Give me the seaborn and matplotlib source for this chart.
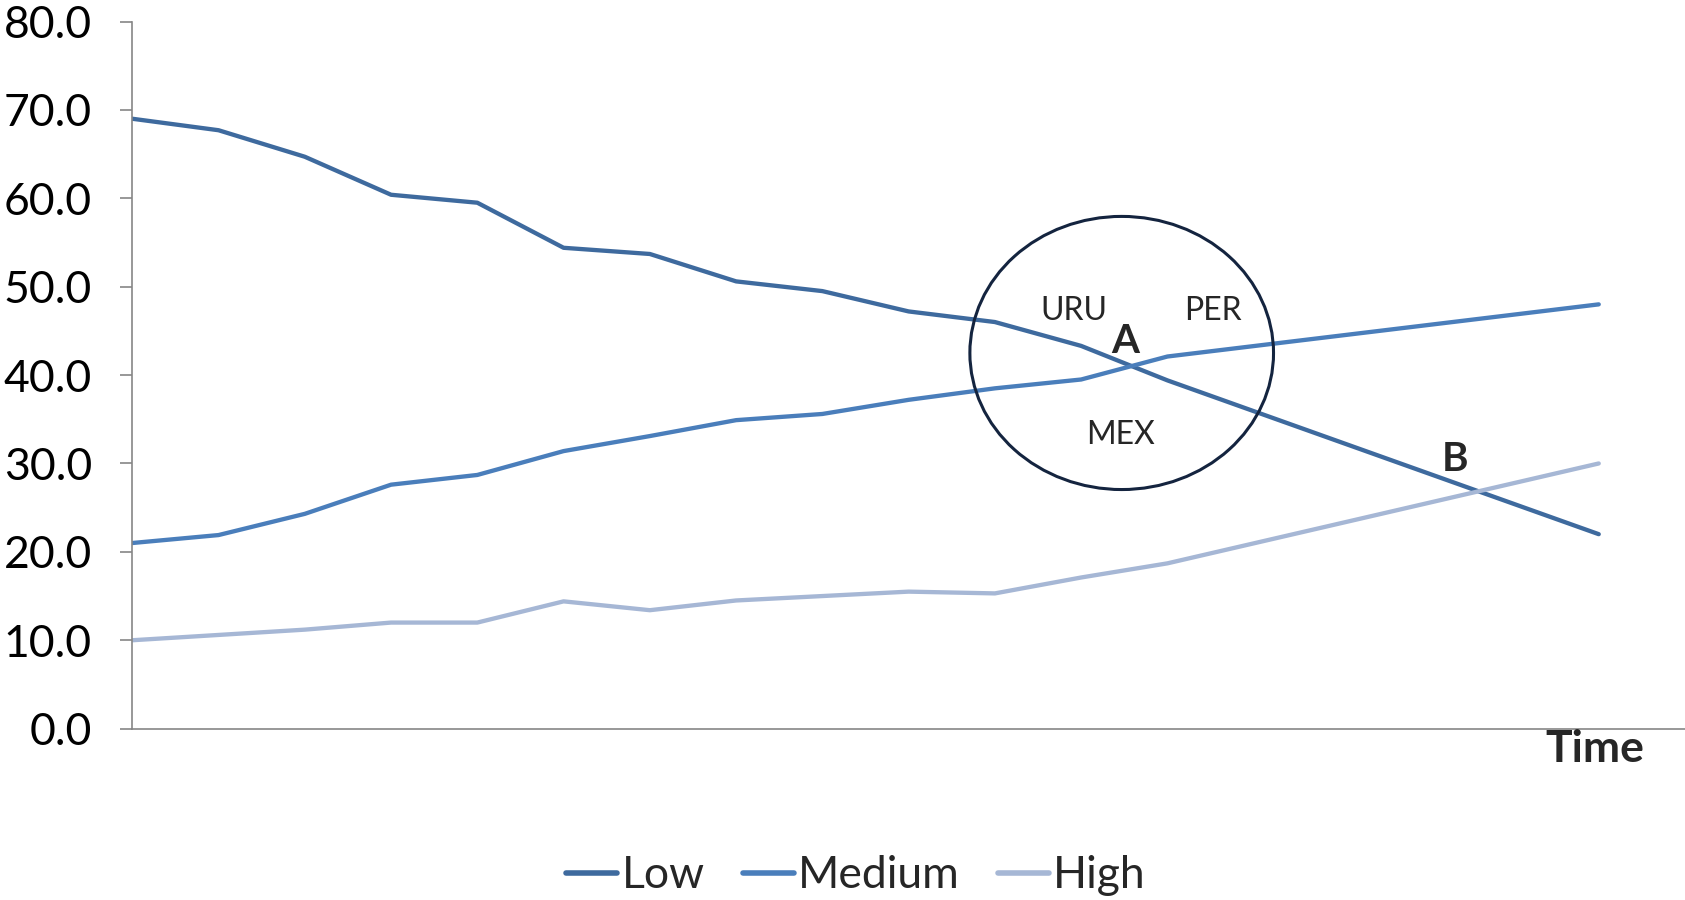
import matplotlib
matplotlib.use("Agg")
import matplotlib.pyplot as plt
from matplotlib.patches import Ellipse
import seaborn as sns
import pandas as pd

# ---- data ----
time_idx = [0, 1, 2, 3, 4, 5, 6, 7, 8, 9, 10, 11, 12, 17]
low = [69.0, 67.7, 64.7, 60.4, 59.5, 54.4, 53.7, 50.6, 49.5, 47.2, 46.0, 43.3, 39.4, 22.0]
medium = [21.0, 21.9, 24.3, 27.6, 28.7, 31.4, 33.1, 34.9, 35.6, 37.2, 38.5, 39.5, 42.1, 48.0]
high = [10.0, 10.6, 11.2, 12.0, 12.0, 14.4, 13.4, 14.5, 15.0, 15.5, 15.3, 17.1, 18.7, 30.0]
series_names = ["Low", "Medium", "High"]
series_colors = ["#3E6A9E", "#4A7EBB", "#A6B7D5"]
y_ticks = [0, 10, 20, 30, 40, 50, 60, 70, 80]

df = pd.concat([
    pd.DataFrame({"t": time_idx, "v": vals, "s": name})
    for name, vals in zip(series_names, [low, medium, high])
])

sns.set_theme(style="white")
plt.rcParams["font.family"] = ["Lato", "DejaVu Sans"]

fig = plt.figure(figsize=(16.85, 9.0), dpi=100)
ax = fig.add_axes([0.0785, 0.1904, 0.9215, 0.7857])

sns.lineplot(data=df, x="t", y="v", hue="s", hue_order=series_names,
             palette=dict(zip(series_names, series_colors)),
             linewidth=3.1, ax=ax, legend=True, sort=True,
             solid_capstyle="round")

ax.set_xlim(0, 18)
ax.set_ylim(0, 80)
ax.set_yticks(y_ticks)
ax.set_yticklabels([f"{v:.1f}" for v in y_ticks], fontsize=32)
ax.set_xticks([])
ax.set_xlabel("")
ax.set_ylabel("")
for side in ["top", "right"]:
    ax.spines[side].set_visible(False)
for side in ["left", "bottom"]:
    ax.spines[side].set_color("#868686")
    ax.spines[side].set_linewidth(1.2)
ax.tick_params(axis="y", which="major", direction="out", length=9,
               width=1.2, color="#868686", pad=20, left=True,
               labelcolor="#000000")

# annotations
ax.add_patch(Ellipse((11.47, 42.5), 3.52, 30.9, fill=False,
                     edgecolor="#14243F", linewidth=2.2, zorder=5))
ax.text(10.92, 47.2, "URU", fontsize=23, ha="center", va="center")
ax.text(12.53, 47.2, "PER", fontsize=23, ha="center", va="center")
ax.text(11.46, 33.2, "MEX", fontsize=23, ha="center", va="center")
ax.text(11.51, 43.8, "A", fontsize=29, fontweight="bold", ha="center", va="center")
ax.text(15.34, 30.4, "B", fontsize=29, fontweight="bold", ha="center", va="center")
ax.text(16.96, -2.3, "Time", fontsize=32, fontweight="bold", ha="center",
        va="center", clip_on=False)

handles, labels = ax.get_legend_handles_labels()
ax.get_legend().remove()
for h in handles:
    h.set_linewidth(4)
    h.set_solid_capstyle("round")
fig.legend(handles, labels, loc="center", bbox_to_anchor=(0.508, 0.027),
           ncol=3, frameon=False, fontsize=32, handlelength=1.15,
           handletextpad=0.1, columnspacing=0.85)

fig.savefig("out.png", dpi=100)
